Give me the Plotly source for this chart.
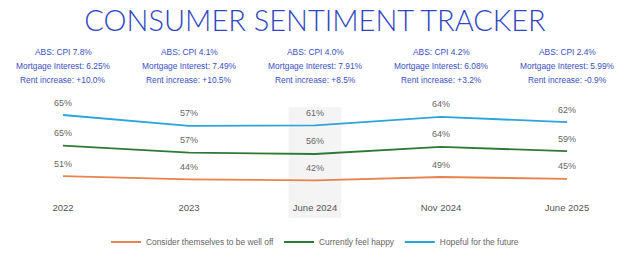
import plotly.graph_objects as go

periods = ["2022", "2023", "June 2024", "Nov 2024", "June 2025"]
well_off = [51, 44, 42, 49, 45]
happy = [65, 57, 56, 64, 59]
hopeful = [65, 57, 61, 64, 62]
cpi = ["7.8%", "4.1%", "4.0%", "4.2%", "2.4%"]
mortgage = ["6.25%", "7.49%", "7.91%", "6.08%", "5.99%"]
rent = ["+10.0%", "+10.5%", "+8.5%", "+3.2%", "-0.9%"]
highlight = "June 2024"

FONT = "Liberation Sans"
series = [
    ("Consider themselves to be well off", well_off, "#e8834d"),
    ("Currently feel happy", happy, "#2e7a35"),
    ("Hopeful for the future", hopeful, "#2ba5d9"),
]

fig = go.Figure()
for name, vals, color in series:
    fig.add_trace(go.Scatter(
        x=periods, y=vals, name=name, mode="lines+markers+text",
        stackgroup="s", fill="none", cliponaxis=False,
        line=dict(color=color, width=1.8),
        marker=dict(size=10, color="rgba(0,0,0,0)", line=dict(width=0)),
        text=[f"{v}%" for v in vals], textposition="top center",
        textfont=dict(family=FONT, size=9, color="#666666"),
        hoverinfo="skip",
    ))

hi = periods.index(highlight)
fig.add_shape(type="rect", xref="x", yref="paper", x0=hi - 0.21, x1=hi + 0.21,
              y0=-0.18, y1=0.93, fillcolor="#f4f4f4", line_width=0, layer="below")

for i, p in enumerate(periods):
    for txt, yy in ((f"ABS: CPI {cpi[i]}", 1.48),
                    (f"Mortgage Interest: {mortgage[i]}", 1.34),
                    (f"Rent increase: {rent[i]}", 1.20)):
        fig.add_annotation(x=i, xref="x", y=yy, yref="paper", text=txt,
                           showarrow=False, yanchor="middle",
                           font=dict(family=FONT, size=8.4, color="#3a4fc4"))

fig.update_layout(
    width=630, height=264,
    margin=dict(l=0, r=0, t=100, b=64),
    paper_bgcolor="white", plot_bgcolor="white",
    title=dict(text="CONSUMER SENTIMENT TRACKER", x=0.5, xanchor="center",
               y=1 - 21 / 264, yanchor="middle",
               font=dict(family="Lato", weight=300, size=29, color="#2f46c0")),
    xaxis=dict(type="category", range=[-0.5, 4.5], showgrid=False,
               zeroline=False, showline=False, ticks="",
               tickfont=dict(family=FONT, size=9.5, color="#555555")),
    yaxis=dict(range=[0, 213], visible=False),
    showlegend=True,
    legend=dict(orientation="h", x=0.5, xanchor="center", y=-0.42,
                yanchor="middle", traceorder="normal",
                font=dict(family=FONT, size=8.4, color="#666666")),
)

fig.write_html("out.html")
